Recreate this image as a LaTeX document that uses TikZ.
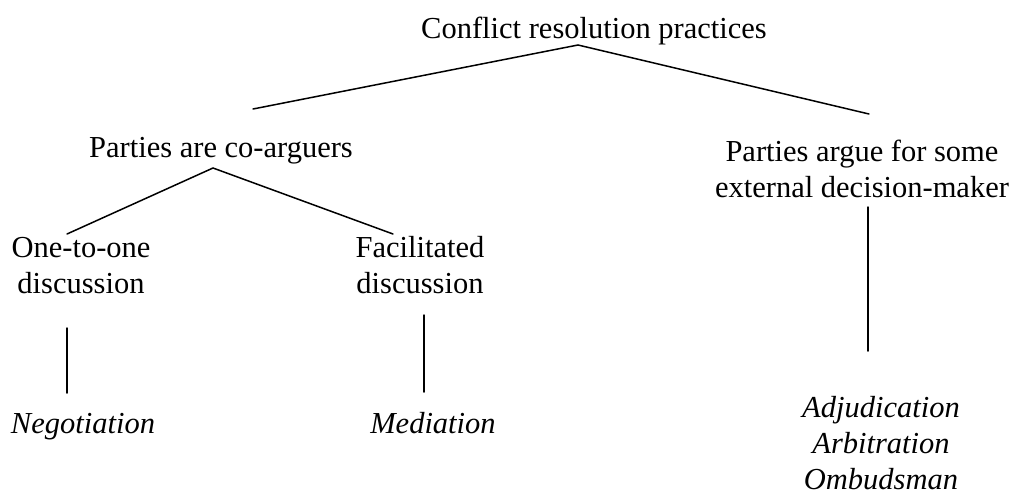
\documentclass[tikz,border=0pt]{standalone}
\usepackage{fontspec}
\setmainfont{Liberation Serif}
\begin{document}
\begin{tikzpicture}[x=1pt,y=-1pt,
  label/.style={inner sep=0pt,anchor=base,align=center,
    font=\fontsize{30.5}{35.5}\selectfont},
  case/.style={label,font=\fontsize{30.5}{36}\selectfont\itshape},
  branch/.style={line width=1.5pt,line cap=round}]
\useasboundingbox (0,0) rectangle (1012,496);
% labels (multi-line nodes are anchored at the baseline of their last line)
\node[label] (root) at (594,38) {Conflict resolution practices};
\node[label] (coarg) at (221,157) {Parties are co-arguers};
\node[label] (ext) at (862,197) {Parties argue for some\\external decision-maker};
\node[label] (one) at (81,293) {One-to-one\\discussion};
\node[label] (fac) at (420,293) {Facilitated\\discussion};
\node[case] (neg) at (83,433) {Negotiation};
\node[case] (med) at (433,433) {Mediation};
\node[case] (adj) at (881,489) {Adjudication\\Arbitration\\Ombudsman};
% branch points
\coordinate (rootJ) at (578,45);
\coordinate (coargT) at (253,109);
\coordinate (extT) at (869,114);
\coordinate (coargJ) at (213,168);
\coordinate (oneT) at (67,234);
\coordinate (facT) at (393,234);
\coordinate (oneB) at (67,328);
\coordinate (negT) at (67,393);
\coordinate (facB) at (424,315);
\coordinate (medT) at (424,392);
\coordinate (extB) at (868,207);
\coordinate (adjT) at (868,351);
% tree
\draw[branch] (coargT) -- (rootJ) -- (extT);
\draw[branch] (oneT) -- (coargJ) -- (facT);
\draw[branch] (oneB) -- (negT);
\draw[branch] (facB) -- (medT);
\draw[branch] (extB) -- (adjT);
\end{tikzpicture}
\end{document}
